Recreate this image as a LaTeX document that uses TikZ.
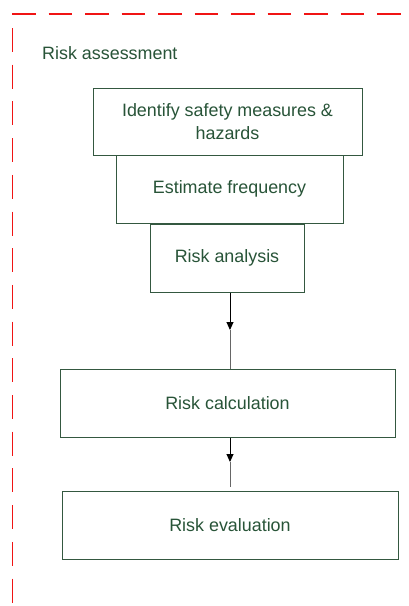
\documentclass[tikz,border=0pt]{standalone}
\usepackage{fontspec}
\setmainfont{Liberation Sans}
\usetikzlibrary{arrows.meta}
\definecolor{boxgreen}{RGB}{52,88,64}
\definecolor{txtgreen}{RGB}{40,84,56}
\definecolor{framered}{RGB}{240,20,20}
\begin{document}
\begin{tikzpicture}[x=1pt,y=-1pt,
  stagebox/.style={draw=boxgreen, line width=1pt, rectangle, inner sep=0pt,
    text=txtgreen, align=center, font=\fontsize{17.9}{23.5}\selectfont},
  frameline/.style={draw=framered, line width=1.2pt},
  flowhead/.style={draw=black, line width=1pt, -{Triangle[length=8pt,width=7pt]}},
  flowtail/.style={draw=gray!80!black, line width=0.9pt}]
\useasboundingbox (0,0) rectangle (408,606);
\fill[white] (0,0) rectangle (408,606);

% dashed boundary of the assessment area
\draw[frameline, dash pattern=on 23.5pt off 13pt] (12,14) -- (408,14);
\draw[frameline, dash pattern=on 24pt off 12.7pt] (12.7,28) -- (12.7,606);

\node[anchor=base west, inner sep=0pt, text=txtgreen,
      font=\fontsize{17.9}{23}\selectfont] (title) at (42,59.5) {Risk assessment};

% process stages
\node[stagebox, minimum width=269pt, minimum height=67pt] (id) at (227.5,121.5)
  {Identify safety measures \&\\hazards};
\node[stagebox, minimum width=227pt, minimum height=68pt] (ef) at (229.5,189) {Estimate frequency};
\node[stagebox, minimum width=154pt, minimum height=68pt] (ra) at (227,258) {Risk analysis};
\node[stagebox, minimum width=335pt, minimum height=68pt] (rc) at (227.5,403) {Risk calculation};
\node[stagebox, minimum width=336pt, minimum height=68pt] (re) at (230,525) {Risk evaluation};

% connectors
\coordinate (m1) at (230,330);
\coordinate (m2) at (230,462);
\coordinate (e2) at (230,487);
\draw[flowhead] (ra.south -| m1) -- (m1);
\draw[flowtail] (m1) -- (m1 |- rc.north);
\draw[flowhead] (rc.south -| m2) -- (m2);
\draw[flowtail] (m2) -- (e2);
\end{tikzpicture}
\end{document}
